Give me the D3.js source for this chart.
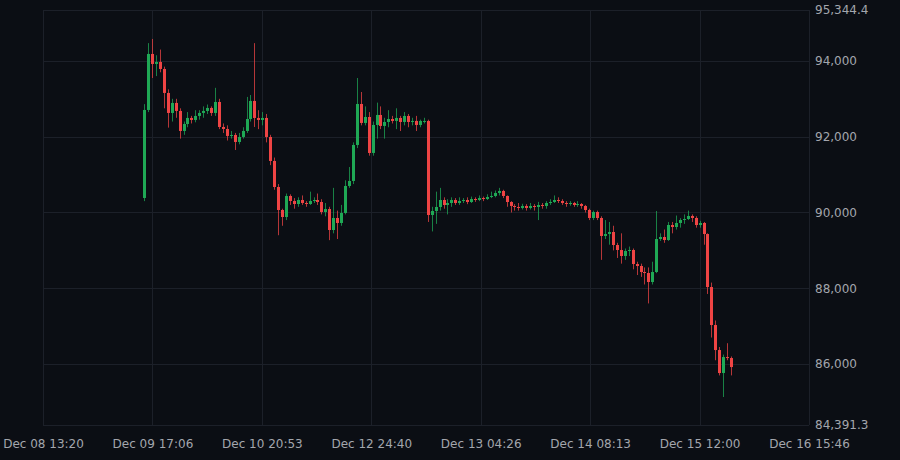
<!DOCTYPE html>
<meta charset="utf-8">
<html>
<head>
<style>
  body { margin: 0; background: #0b0e14; }
  svg text { font-family: "DejaVu Sans", sans-serif; font-size: 12px; fill: #a3a6ad; }
</style>
</head>
<body>
<div id="chart"></div>
<script src="https://d3js.org/d3.v7.min.js"></script>
<script>
// hourly candles starting Dec 09 15:00
var firstOpen = 90383;
var closes = [92706,94184,93920,93973,93788,93155,92627,92891,92680,92152,
  92336,92495,92442,92548,92627,92680,92759,92627,92917,92257,
  92204,92020,92046,91861,91993,92152,92468,92944,92495,92442,
  92495,91993,91360,90673,90066,89881,90436,90304,90224,90330,
  90251,90224,90304,90330,90277,90013,90092,89538,89855,89723,
  89987,90700,90832,91782,92864,92363,92521,91571,92310,92574,
  92284,92389,92468,92416,92495,92389,92548,92389,92416,92310,
  92416,92416,89934,90040,90145,90330,90198,90251,90330,90251,
  90304,90330,90277,90356,90330,90383,90356,90409,90436,90515,
  90568,90436,90277,90172,90145,90119,90172,90119,90172,90145,
  90198,90172,90251,90277,90330,90304,90251,90224,90251,90198,
  90224,90172,90066,89855,90013,89855,89380,89432,89485,89142,
  89010,88852,88984,89010,88640,88588,88429,88403,88165,88429,
  89300,89353,89274,89670,89617,89723,89802,89828,89908,89855,
  89670,89723,89432,88033,87030,86370,85763,86185,86159,85921];
var highs = [92860,94470,94580,94150,94300,93850,93250,93000,93000,92750,
  92400,92650,92550,92700,92700,92800,92850,92800,93290,93000,
  92350,92300,92150,92100,92100,92250,93050,93100,94470,92700,
  92650,92600,92050,91450,90750,90100,90500,90480,90380,90400,
  90450,90300,90550,90400,90500,90350,90250,90150,90650,90050,
  90200,90850,91200,91850,93550,93180,92800,92650,92400,92900,
  92800,92500,92700,92550,92750,92550,92650,92600,92500,92550,
  92450,92500,92450,90150,90550,90650,90400,90350,90400,90380,
  90400,90380,90400,90420,90400,90450,90420,90480,90550,90580,
  90650,90600,90450,90300,90220,90250,90230,90220,90250,90220,
  90280,90250,90300,90350,90450,90400,90350,90300,90300,90280,
  90300,90250,90200,90100,90050,90050,89900,89800,89750,89650,
  89200,89450,89050,89100,89050,88700,88650,88550,88550,88700,
  90040,89450,89550,89750,89750,89920,89850,89950,90050,89950,
  89900,89780,89750,89450,88150,87150,86450,86250,86550,86200];
var lows = [90300,92650,93550,93600,93700,92750,92240,92400,92500,91950,
  92050,92250,92350,92380,92450,92500,92600,92550,92550,92200,
  92100,91900,91950,91650,91800,91950,92100,92400,92257,92200,
  92300,91850,91250,90600,89400,89650,89800,90200,90100,90150,
  90200,90150,90200,90250,90200,89950,89900,89270,89450,89300,
  89650,89950,90650,90750,91700,92300,92300,91500,91500,91950,
  92200,91950,92250,92350,92200,92150,92300,92250,92300,92150,
  92250,92350,89750,89500,89700,90050,90100,89950,90150,90200,
  90200,90250,90220,90250,90280,90300,90300,90330,90380,90400,
  90450,90380,90150,90000,90050,90050,90080,90050,90080,90050,
  89800,90100,90100,90200,90250,90250,90200,90150,90180,90150,
  90150,90100,90000,89800,89800,89800,88750,89300,89150,89000,
  88800,88650,88750,88850,88500,88350,88300,88100,87600,88100,
  88400,89250,89200,89250,89450,89550,89600,89700,89800,89750,
  89600,89600,89150,87850,86700,86100,85700,85130,86100,85700];

var startTime = Date.UTC(2025, 11, 9, 15, 0);
var axisStart = Date.UTC(2025, 11, 8, 13, 20);
var axisEnd = Date.UTC(2025, 11, 16, 15, 46);
var tickLabels = ["Dec 08 13:20", "Dec 09 17:06", "Dec 10 20:53", "Dec 12 24:40",
  "Dec 13 04:26", "Dec 14 08:13", "Dec 15 12:00", "Dec 16 15:46"];
var priceTicks = [86000, 88000, 90000, 92000, 94000];
var priceMin = 84391.3, priceMax = 95344.4;

var data = closes.map(function(c, i) {
  return {
    t: startTime + i * 3600000,
    o: i === 0 ? firstOpen : closes[i - 1],
    c: c, h: highs[i], l: lows[i]
  };
});

var width = 900, height = 460;
var plotLeft = 43, plotRight = 809, plotTop = 10, plotBottom = 425;

var svg = d3.select("#chart").append("svg")
  .attr("width", width).attr("height", height);

var x = d3.scaleTime().domain([axisStart, axisEnd]).range([plotLeft, plotRight]);
var y = d3.scaleLinear().domain([priceMin, priceMax]).range([plotBottom, plotTop]);

var tickTimes = tickLabels.map(function(d, i) {
  return axisStart + i * (axisEnd - axisStart) / (tickLabels.length - 1);
});
var yTicks = priceTicks.concat([priceMin, priceMax]);

var grid = svg.append("g").attr("stroke", "#1c2029").attr("stroke-width", 1);
grid.selectAll(".v").data(tickTimes).enter().append("line")
  .attr("x1", function(d) { return Math.round(x(d)) + 0.5; })
  .attr("x2", function(d) { return Math.round(x(d)) + 0.5; })
  .attr("y1", plotTop).attr("y2", plotBottom);
grid.selectAll(".h").data(yTicks).enter().append("line")
  .attr("x1", plotLeft).attr("x2", plotRight)
  .attr("y1", function(d) { return Math.round(y(d)) + 0.5; })
  .attr("y2", function(d) { return Math.round(y(d)) + 0.5; });

var xAxis = d3.axisBottom(x).tickValues(tickTimes).tickSize(0)
  .tickFormat(function(d, i) { return tickLabels[i]; });
svg.append("g").attr("transform", "translate(0," + (plotBottom + 11) + ")")
  .call(xAxis).call(function(g) { g.select(".domain").remove(); });

var yAxis = d3.axisRight(y).tickValues(yTicks).tickSize(0)
  .tickFormat(function(d) { return d === priceMin || d === priceMax ? d3.format(",.1f")(d) : d3.format(",")(d); });
svg.append("g").attr("transform", "translate(" + (plotRight + 3) + ",0)")
  .call(yAxis).call(function(g) { g.select(".domain").remove(); });

var up = "#1fa855", down = "#ef4444";
var candles = svg.append("g").selectAll("g").data(data).enter().append("g");
candles.append("line")
  .attr("x1", function(d) { return Math.round(x(d.t)) + 0.5; })
  .attr("x2", function(d) { return Math.round(x(d.t)) + 0.5; })
  .attr("y1", function(d) { return y(d.h); })
  .attr("y2", function(d) { return y(d.l); })
  .attr("stroke", function(d) { return d.c >= d.o ? up : down; })
  .attr("stroke-opacity", 0.75);
candles.append("rect")
  .attr("x", function(d) { return Math.round(x(d.t)) - 1; })
  .attr("width", 3)
  .attr("y", function(d) { return y(Math.max(d.o, d.c)); })
  .attr("height", function(d) { return Math.max(1, Math.abs(y(d.o) - y(d.c))); })
  .attr("fill", function(d) { return d.c >= d.o ? up : down; });
</script>
</body>
</html>
